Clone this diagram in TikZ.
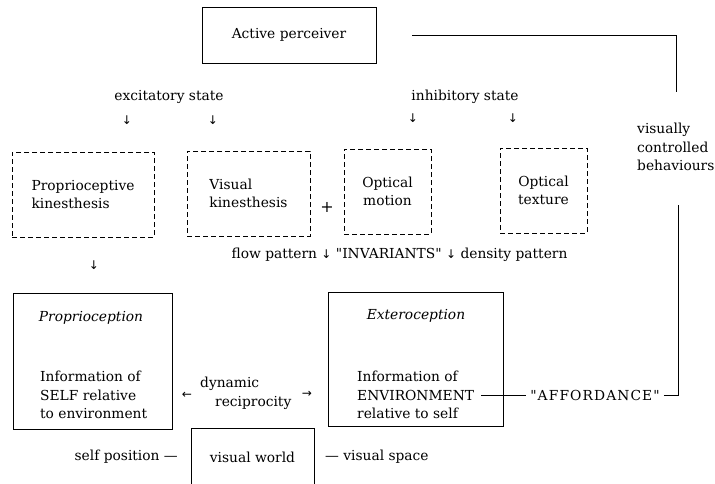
\documentclass[tikz,border=0pt]{standalone}
\usepackage{fontspec}
\newfontfamily\diafont{DejaVu Serif}
\newfontfamily\arrowfont{DejaVu Sans}
\usetikzlibrary{positioning,calc}

\tikzset{
  solidbox/.style={draw, line width=0.8pt, inner sep=0pt},
  dashbox/.style={draw, line width=0.8pt, dash pattern=on 5pt off 3pt, inner sep=0pt,
    minimum height=85pt},
  txt/.style={inner sep=1pt, align=left},
  arr/.style={inner sep=0pt, font=\arrowfont\fontsize{12}{12}\selectfont},
  link/.style={line width=0.8pt},
}
\newcommand{\darr}{{\arrowfont\fontsize{12}{12}\selectfont ↓}}

\begin{document}
\begin{tikzpicture}[x=1pt, y=-1pt, font=\diafont\fontsize{13.8}{18.5}\selectfont]
\clip (0,0) rectangle (715,483);
\fill[white] (0,0) rectangle (715,483);

% top row
\node[solidbox, minimum width=174pt, minimum height=56pt] (perceiver) at (289,35) {Active perceiver};
\node[txt] (excit) at (169,97) {excitatory state};
\node[txt] (inhib) at (465,97) {inhibitory state};
\node[arr] (excitA) at (127,120) {↓};
\node[arr] (excitB) at (213,120) {↓};
\node[arr] (inhibA) at (413,118) {↓};
\node[arr] (inhibB) at (513,118) {↓};

% dashed boxes
\node[dashbox, minimum width=142pt, align=left] (propkin) at (83,194.5) {Proprioceptive\\kinesthesis};
\node[dashbox, minimum width=123pt, align=left] (viskin) at (248.5,193.5) {Visual\\kinesthesis};
\node[txt, font=\diafont\fontsize{16}{16}\selectfont] (plus) at (327,207) {+};
\node[dashbox, minimum width=87pt, align=center] (optmot) at (387.5,191.5) {Optical\\motion};
\node[dashbox, minimum width=87pt, align=center] (opttex) at (543.5,190.5) {Optical\\texture};
\node[txt, anchor=west] (visctl) at (636,147) {visually\\controlled\\behaviours};

\node[arr] (propA) at (94,265) {↓};
\node[txt] (flow) at (399.5,255) {flow pattern \darr{} "INVARIANTS" \darr{} density pattern};

% lower boxes
\node[solidbox, minimum width=159pt, minimum height=136pt] (propbox) at (92.5,361) {};
\node[txt, font=\diafont\fontsize{13.8}{18.5}\selectfont\itshape] (proptitle) at (91,318) {Proprioception};
\node[txt, anchor=west] (propinfo) at (39,395) {Information of\\SELF relative\\to environment};

\node[solidbox, minimum width=175pt, minimum height=134pt] (extbox) at (415.5,359) {};
\node[txt, font=\diafont\fontsize{13.8}{18.5}\selectfont\itshape] (exttitle) at (416,316) {Exteroception};
\node[txt, anchor=west] (extinfo) at (356,395) {Information of\\ENVIRONMENT\\relative to self};

\node[txt, anchor=west] (dynrec) at (199,393.5) {dynamic\\\hspace*{15pt}reciprocity};
\node[arr] (larr) at (187,395) {←};
\node[arr] (rarr) at (307,394) {→};

\node[txt, inner xsep=4pt] (afford) at (595,395) {\addfontfeature{LetterSpace=8}"AFFORDANCE"};

% bottom
\node[solidbox, minimum width=123pt, minimum height=58pt] (visworld) at (252.5,457) {visual world};
\node[txt, anchor=east] (selfpos) at (179,457) {self position —};
\node[txt, anchor=west] (visspace) at (324,457) {— visual space};

% feedback loop
\coordinate (percout) at ([xshift=36pt]perceiver.east);
\coordinate (loopup) at (676,92);
\coordinate (loopdown) at (678,205);
\draw[link] (percout) -| (loopup);
\draw[link, shorten <=6pt] (extinfo.east) -- (afford.west);
\draw[link] (afford.east) -| (loopdown);
\end{tikzpicture}
\end{document}
